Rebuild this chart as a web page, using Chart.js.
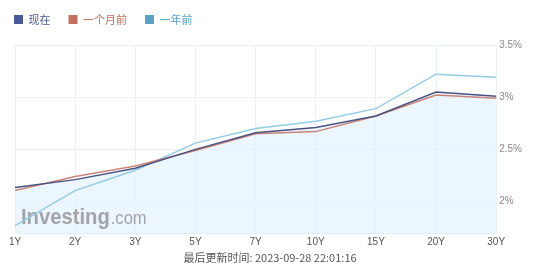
<!DOCTYPE html>
<html>
<head>
<meta charset="utf-8">
<script src="https://cdn.jsdelivr.net/npm/chart.js@4"></script>
<style>
  html, body { margin: 0; padding: 0; background: #fff; }
  #wrap { width: 535px; height: 270px; position: relative; }
</style>
</head>
<body>
<div id="wrap"><canvas id="yieldChart"></canvas></div>
<script>
let labels = ["1Y", "2Y", "3Y", "5Y", "7Y", "10Y", "15Y", "20Y", "30Y"];
let now = [2.135, 2.21, 2.32, 2.50, 2.66, 2.71, 2.82, 3.05, 3.01];
let monthAgo = [2.105, 2.24, 2.34, 2.49, 2.65, 2.67, 2.82, 3.02, 2.99];
let yearAgo = [1.77, 2.105, 2.30, 2.56, 2.70, 2.77, 2.89, 3.22, 3.19];
let yTicks = [2, 2.5, 3, 3.5];
let updated = "最后更新时间: 2023-09-28 22:01:16";

let legendColors = ["#4b5a9a", "#c4705f", "#5aa3c8"];

// Investing.com watermark in the lower left corner (over the fill, under the lines)
const watermark = {
  id: "watermark",
  beforeDatasetsDraw(chart) {
    let ctx = chart.ctx;
    ctx.save();
    ctx.fillStyle = "rgba(150,150,150,0.85)";
    ctx.textBaseline = "alphabetic";
    ctx.translate(21, 224);
    ctx.scale(0.92, 1);
    ctx.font = "bold 22px 'Liberation Sans', Arial";
    ctx.fillText("Investing", 0, 0);
    let w = ctx.measureText("Investing").width;
    ctx.font = "18px 'Liberation Sans', Arial";
    ctx.fillText(".com", w + 1, 0);
    ctx.restore();
  },
};

// put the legend at the top left, like the original
const legendShift = {
  id: "legendShift",
  afterLayout(chart) {
    chart.legend.top = -4;
    chart.legend.left = -4;
  },
};

let $ctx = document.getElementById("yieldChart").getContext("2d");

let yieldChart = new Chart($ctx, {
  type: "line",
  data: {
    labels: labels,
    datasets: [
      {
        label: "现在",
        data: now,
        borderColor: "#4a5282",
        backgroundColor: "rgba(226,241,253,0.65)",
        fill: "start",
        borderWidth: 1.5,
        pointRadius: 0,
        tension: 0,
        order: 1,
      },
      {
        label: "一个月前",
        data: monthAgo,
        borderColor: "#c9857a",
        backgroundColor: "#c9857a",
        fill: false,
        borderWidth: 1.5,
        pointRadius: 0,
        tension: 0,
        order: 2,
      },
      {
        label: "一年前",
        data: yearAgo,
        borderColor: "#93cce3",
        backgroundColor: "#93cce3",
        fill: false,
        borderWidth: 1.5,
        pointRadius: 0,
        tension: 0,
        order: 3,
      },
    ],
  },
  options: {
    responsive: true,
    maintainAspectRatio: false,
    animation: false,
    layout: {
      padding: { left: 15, right: 10, top: 6, bottom: 6 },
    },
    scales: {
      x: {
        offset: false,
        grid: { color: "#e8f0f8", drawTicks: false },
        border: { color: "#dfe8f2" },
        ticks: {
          color: "#555",
          font: { size: 10, family: "'Liberation Sans', Arial" },
          padding: 2,
          maxRotation: 0,
        },
      },
      y: {
        position: "right",
        min: 1.69,
        max: 3.5,
        afterBuildTicks(scale) {
          scale.ticks = yTicks.map((v) => ({ value: v }));
        },
        grid: { color: "#e8f0f8", drawTicks: false },
        border: { display: false },
        ticks: {
          color: "#888",
          font: { size: 10, family: "'Liberation Sans', Arial" },
          padding: 3,
          callback: (v) => v + "%",
        },
      },
    },
    plugins: {
      filler: { drawTime: "beforeDatasetsDraw" },
      legend: {
        align: "start",
        labels: {
          boxWidth: 9,
          boxHeight: 9,
          padding: 18,
          font: { size: 11, family: "'Noto Sans CJK SC'" },
          generateLabels(chart) {
            return chart.data.datasets.map((ds, i) => ({
              text: ds.label,
              fillStyle: legendColors[i],
              strokeStyle: legendColors[i],
              lineWidth: 0,
              fontColor: legendColors[i],
              datasetIndex: i,
            }));
          },
        },
      },
      title: {
        display: true,
        position: "bottom",
        text: updated,
        color: "#555",
        font: { size: 11, weight: "normal", family: "'Noto Sans CJK SC'", lineHeight: 1.1 },
        padding: { top: 2, bottom: 0 },
      },
      tooltip: { enabled: false },
    },
  },
  plugins: [watermark, legendShift],
});
</script>
</body>
</html>
